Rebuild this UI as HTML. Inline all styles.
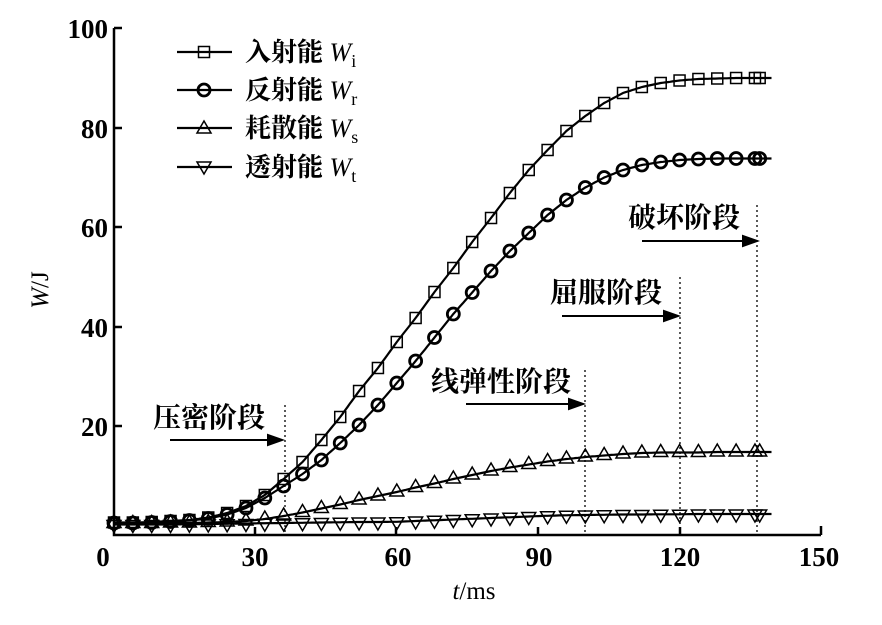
<!DOCTYPE html>
<html><head><meta charset="utf-8"><style>
html,body{margin:0;padding:0;background:#fff;}
svg{display:block;}
</style></head><body>
<svg id="s" width="882" height="625" viewBox="0 0 882 625" xmlns="http://www.w3.org/2000/svg" font-family="'Liberation Serif','Noto Serif CJK SC',serif">
<g stroke="#000" stroke-width="2.5" fill="none">
<path d="M114,28 V535 H821"/>
<path d="M114,28 h8 M114,128 h8 M114,227 h8 M114,327 h8 M114,426 h8"/>
<path d="M255,535 v-8 M396,535 v-8 M538,535 v-8 M680,535 v-8 M821,535 v-9"/>
</g>
<g font-size="27" font-weight="bold" text-anchor="end">
<text x="108" y="38">100</text><text x="108" y="138">80</text><text x="108" y="237">60</text>
<text x="108" y="337">40</text><text x="108" y="436">20</text>
</g>
<g font-size="27" font-weight="bold" text-anchor="middle">
<text x="103" y="566">0</text><text x="255" y="566">30</text><text x="398" y="566">60</text>
<text x="539" y="566">90</text><text x="680" y="566">120</text><text x="819" y="566">150</text>
</g>
<text x="474" y="599" font-size="25" text-anchor="middle"><tspan font-style="italic">t</tspan>/ms</text>
<text transform="translate(48,290) rotate(-90)" font-size="25" text-anchor="middle"><tspan font-style="italic">W</tspan>/J</text>
<g stroke="#000" stroke-width="1.3" stroke-dasharray="2,3" fill="none">
<path d="M285,405 V535 M585,370 V535 M680,277 V535 M757,205 V535"/>
</g>
<g stroke="#000" stroke-width="2" fill="#000">
<path d="M170,440 H270" fill="none"/><path d="M282,440 l-14,-5 v10z"/>
<path d="M466,404 H571" fill="none"/><path d="M583,404 l-14,-5 v10z"/>
<path d="M562,316 H666" fill="none"/><path d="M678,316 l-14,-5 v10z"/>
<path d="M642,241 H745" fill="none"/><path d="M757,241 l-14,-5 v10z"/>
</g>
<g font-size="28" font-family="'Noto Serif CJK SC','Noto Sans CJK SC',serif" font-weight="bold">
<text x="153" y="427">压密阶段</text>
<text x="431" y="391">线弹性阶段</text>
<text x="550" y="302">屈服阶段</text>
<text x="628" y="227">破坏阶段</text>
</g>
<g id="data"></g>
<g id="leg"></g>
</svg>
<script>
var X=function(t){return 114+t*4.713;},Y=function(w){return 525-w*5;};
function interp(tab,t){for(var i=0;i<tab.length-1;i++){if(t<=tab[i+1][0]){var a=tab[i],b=tab[i+1];var f=(t-a[0])/(b[0]-a[0]);return a[1]+(b[1]-a[1])*f;}}return tab[tab.length-1][1];}
function mk(arr){var r=[];for(var i=0;i<arr.length;i++)r.push([i*4,arr[i]]);return r;}
var inc=mk([0.5,0.5,0.6,0.8,1.0,1.5,2.4,3.8,6,9.2,12.6,17,21.6,26.8,31.4,36.6,41.4,46.6,51.4,56.6,61.4,66.4,71,75,78.8,81.8,84.4,86.4,87.6,88.4,88.9,89.2,89.3,89.4,89.4,89.4]);
var ref=mk([0.4,0.4,0.5,0.7,0.9,1.3,2.1,3.4,5.4,7.8,10.2,13,16.4,20,24,28.4,32.8,37.5,42.2,46.5,50.8,54.8,58.4,62,65,67.5,69.5,71,72,72.6,73,73.2,73.3,73.3,73.3,73.3]);
var dis=mk([0.3,0.3,0.3,0.4,0.4,0.5,0.6,0.8,1.2,1.8,2.5,3.3,4.1,5,5.8,6.6,7.5,8.3,9.2,10,10.8,11.5,12.1,12.7,13.2,13.6,13.9,14.2,14.4,14.5,14.5,14.5,14.6,14.6,14.6,14.6]);
var tra=mk([0.1,0.1,0.1,0.1,0.15,0.2,0.25,0.3,0.35,0.4,0.45,0.5,0.55,0.6,0.6,0.65,0.8,0.95,1.1,1.25,1.4,1.55,1.7,1.85,1.95,2.0,2.05,2.1,2.1,2.15,2.15,2.2,2.2,2.2,2.2,2.2]);
var ns="http://www.w3.org/2000/svg",g=document.getElementById('data');
function el(n,a,p){var e=document.createElementNS(ns,n);for(var k in a)e.setAttribute(k,a[k]);(p||g).appendChild(e);return e;}
function marker(type,x,y,p){
 if(type=='s')el('rect',{x:x-5.5,y:y-5.5,width:11,height:11,fill:'none',stroke:'#000','stroke-width':1.5},p);
 else if(type=='c')el('circle',{cx:x,cy:y,r:6,fill:'none',stroke:'#000','stroke-width':2.8},p);
 else if(type=='u')el('path',{d:'M'+x+','+(y-8)+' l7,12 h-14z',fill:'none',stroke:'#000','stroke-width':1.5},p);
 else el('path',{d:'M'+x+','+(y+8)+' l7,-12 h-14z',fill:'none',stroke:'#000','stroke-width':1.5},p);
}
[[inc,'s'],[ref,'c'],[dis,'u'],[tra,'d']].forEach(function(s){
 var d='';for(var t=0;t<=139.5;t+=0.5){d+=(t?'L':'M')+X(t).toFixed(1)+','+Y(interp(s[0],t)).toFixed(1);}
 el('path',{d:d,fill:'none',stroke:'#000','stroke-width':2.2});
 var ts=[];for(var t=0;t<=136;t+=4)ts.push(t);ts.push(137);
 ts.forEach(function(t){marker(s[1],X(t),Y(interp(s[0],t)));});
});
var lg=document.getElementById('leg');
var names=[['入射能','i','s'],['反射能','r','c'],['耗散能','s','u'],['透射能','t','d']];
names.forEach(function(n,i){var y=[52,90,128,167][i];
 el('path',{d:'M177,'+y+' H232',stroke:'#000','stroke-width':2.2},lg);
 marker(n[2],204,y+(n[2]=='u'?1:n[2]=='d'?-1:0),lg);
 var t=el('text',{x:245,y:y+9,'font-size':26},lg);
 var a=document.createElementNS(ns,'tspan');a.setAttribute('font-family',"'Noto Serif CJK SC',serif");a.setAttribute('font-weight','bold');a.textContent=n[0]+' ';t.appendChild(a);
 var b=document.createElementNS(ns,'tspan');b.setAttribute('font-style','italic');b.textContent='W';t.appendChild(b);
 var c=document.createElementNS(ns,'tspan');c.setAttribute('font-size','18');c.setAttribute('dy','6');c.textContent=n[1];t.appendChild(c);
});
</script>
</body></html>
